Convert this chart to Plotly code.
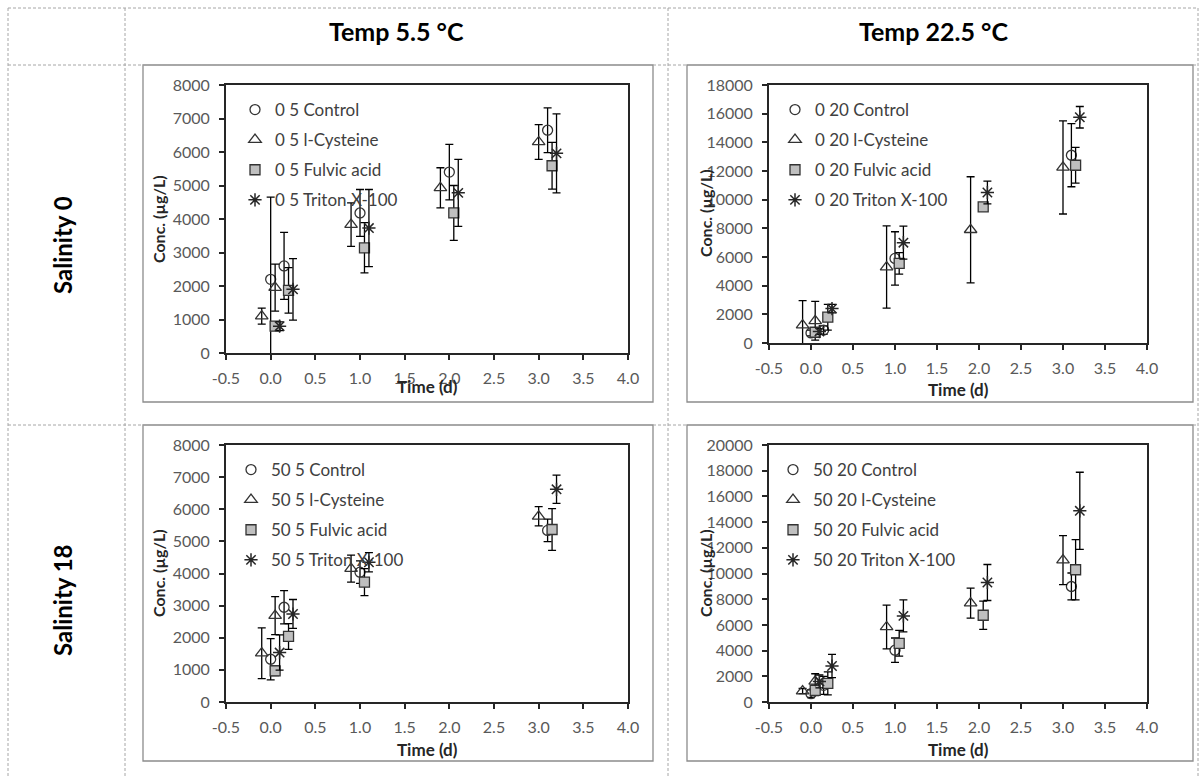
import plotly.graph_objects as go

# ---------------- data ----------------
time_control = [0.0, 0.15, 1.0, 2.0, 3.1]
time_cysteine = [-0.1, 0.05, 0.9, 1.9, 3.0]
time_fulvic = [0.05, 0.2, 1.05, 2.05, 3.15]
time_triton = [0.1, 0.25, 1.1, 2.1, 3.2]

x_tick_vals = [-0.5, 0.0, 0.5, 1.0, 1.5, 2.0, 2.5, 3.0, 3.5, 4.0]
x_tick_labels = ["-0.5", "0.0", "0.5", "1.0", "1.5", "2.0", "2.5", "3.0", "3.5", "4.0"]

# Salinity 0, Temp 5.5
s0_t5_control = [2200, 2600, 4180, 5400, 6650]
s0_t5_control_err = [2450, 1000, 700, 830, 670]
s0_t5_cysteine = [1100, 1950, 3830, 4930, 6300]
s0_t5_cysteine_err = [240, 700, 650, 600, 520]
s0_t5_fulvic = [800, 1870, 3140, 4180, 5590]
s0_t5_fulvic_err = [100, 680, 750, 820, 700]
s0_t5_triton = [800, 1900, 3730, 4780, 5960]
s0_t5_triton_err = [130, 920, 1150, 1000, 1180]

# Salinity 0, Temp 22.5
s0_t20_control = [700, 900, 5900, None, 13100]
s0_t20_control_err = [200, 300, 1860, 0, 2200]
s0_t20_cysteine = [1250, 1550, 5300, 7900, 12250]
s0_t20_cysteine_err = [1700, 1350, 2870, 3700, 3250]
s0_t20_fulvic = [750, 1800, 5550, 9500, 12400]
s0_t20_fulvic_err = [150, 900, 750, 200, 1250]
s0_t20_triton = [800, 2400, 7000, 10500, 15750]
s0_t20_triton_err = [200, 300, 1150, 800, 750]

# Salinity 18, Temp 5.5
s18_t5_control = [1330, 2950, 4040, None, 5340]
s18_t5_control_err = [640, 520, 350, 0, 350]
s18_t5_cysteine = [1520, 2690, 4150, None, 5780]
s18_t5_cysteine_err = [790, 590, 420, 0, 300]
s18_t5_fulvic = [970, 2040, 3730, None, 5370]
s18_t5_fulvic_err = [150, 400, 420, 0, 650]
s18_t5_triton = [1540, 2740, 4350, None, 6620]
s18_t5_triton_err = [550, 450, 300, 0, 440]

# Salinity 18, Temp 22.5
s18_t20_control = [650, 1300, 4030, None, 8990]
s18_t20_control_err = [300, 700, 950, 0, 1050]
s18_t20_cysteine = [850, 1600, 5840, 7690, 11040]
s18_t20_cysteine_err = [200, 600, 1700, 1170, 1900]
s18_t20_fulvic = [900, 1450, 4570, 6750, 10290]
s18_t20_fulvic_err = [400, 900, 1000, 1100, 2350]
s18_t20_triton = [1600, 2800, 6700, 9300, 14880]
s18_t20_triton_err = [500, 900, 1250, 1400, 3000]

col_titles = ["Temp 5.5 °C", "Temp 22.5 °C"]
row_titles = ["Salinity 0", "Salinity 18"]
series_names = ["Control", "l-Cysteine", "Fulvic acid", "Triton X-100"]

# ---------------- layout helpers ----------------
W, H = 1201, 776
FONT = "Lato"


def xp(px):
    return px / W


def yp(py):
    return 1 - py / H


panels = [
    dict(prefix="0 5", xa="x", ya="y", leg="legend", xdom=(226, 628), ydom=(85, 353), ymax=8000, dtick=1000,
         data=[(s0_t5_control, s0_t5_control_err), (s0_t5_cysteine, s0_t5_cysteine_err),
               (s0_t5_fulvic, s0_t5_fulvic_err), (s0_t5_triton, s0_t5_triton_err)],
         legpos=(255, 110), ytitle=(158, 219), xtitle=(427, 386)),
    dict(prefix="0 20", xa="x2", ya="y2", leg="legend2", xdom=(769, 1147), ydom=(85, 343), ymax=18000, dtick=2000,
         data=[(s0_t20_control, s0_t20_control_err), (s0_t20_cysteine, s0_t20_cysteine_err),
               (s0_t20_fulvic, s0_t20_fulvic_err), (s0_t20_triton, s0_t20_triton_err)],
         legpos=(795, 110), ytitle=(705, 213), xtitle=(958, 389)),
    dict(prefix="50 5", xa="x3", ya="y3", leg="legend3", xdom=(226, 628), ydom=(445, 702), ymax=8000, dtick=1000,
         data=[(s18_t5_control, s18_t5_control_err), (s18_t5_cysteine, s18_t5_cysteine_err),
               (s18_t5_fulvic, s18_t5_fulvic_err), (s18_t5_triton, s18_t5_triton_err)],
         legpos=(251, 470), ytitle=(158, 573), xtitle=(427, 749)),
    dict(prefix="50 20", xa="x4", ya="y4", leg="legend4", xdom=(769, 1147), ydom=(445, 702), ymax=20000, dtick=2000,
         data=[(s18_t20_control, s18_t20_control_err), (s18_t20_cysteine, s18_t20_cysteine_err),
               (s18_t20_fulvic, s18_t20_fulvic_err), (s18_t20_triton, s18_t20_triton_err)],
         legpos=(793, 470), ytitle=(705, 573), xtitle=(958, 749)),
]

times = [time_control, time_cysteine, time_fulvic, time_triton]
DARK = "#333333"
markers = [
    dict(symbol="circle-open", size=10, color=DARK, line=dict(width=1.3, color=DARK)),
    dict(symbol="triangle-up-open", size=11, color=DARK, line=dict(width=1.3, color=DARK)),
    dict(symbol="square", size=10, color="#BFBFBF", line=dict(width=1.3, color=DARK)),
    dict(symbol="asterisk-open", size=11, color="#262626", line=dict(width=1.5, color="#262626")),
]

fig = go.Figure()
layout_extra = {}
annotations = []
shapes = []


def label(text, px, py, size, color, angle=0):
    return dict(text=text, x=xp(px), y=yp(py), xref="paper", yref="paper", showarrow=False,
                xanchor="center", yanchor="middle", textangle=angle,
                font=dict(family=FONT, size=size, color=color))


for i, p in enumerate(panels):
    for s in range(4):
        vals, errs = p["data"][s]
        fig.add_trace(go.Scatter(
            x=times[s], y=vals, mode="markers",
            name=f"{p['prefix']} {series_names[s]}",
            marker=markers[s],
            error_y=dict(type="data", array=errs, visible=True, color="black", thickness=1.3, width=4),
            xaxis=p["xa"], yaxis=p["ya"], legend=p["leg"],
            legendgroup=f"{p['prefix']}-{s}",
        ))
    axis_common = dict(showline=True, linecolor="#262626", linewidth=2, mirror=True,
                       ticks="outside", ticklen=5, tickwidth=1.5, tickcolor="#262626",
                       showgrid=False, zeroline=False, automargin=False,
                       tickfont=dict(family=FONT, size=16, color="#595959"))
    xkey = "xaxis" if p["xa"] == "x" else "xaxis" + p["xa"][1:]
    ykey = "yaxis" if p["ya"] == "y" else "yaxis" + p["ya"][1:]
    layout_extra[xkey] = dict(axis_common, domain=[xp(p["xdom"][0]), xp(p["xdom"][1])],
                              range=[-0.5, 4.0], tickvals=x_tick_vals, ticktext=x_tick_labels,
                              anchor=p["ya"], ticklabelstandoff=5)
    layout_extra[ykey] = dict(axis_common, domain=[yp(p["ydom"][1]), yp(p["ydom"][0])],
                              range=[0, p["ymax"]], dtick=p["dtick"], tickformat="d",
                              anchor=p["xa"], ticklabelstandoff=6)
    lx, ly = p["legpos"]
    layout_extra[p["leg"]] = dict(x=xp(lx - 20), y=yp(ly - 18), xanchor="left", yanchor="top",
                                  bgcolor="rgba(0,0,0,0)", traceorder="grouped", tracegroupgap=5,
                                  font=dict(family=FONT, size=17, color="#404040"), itemwidth=30)
    annotations.append(label("<b>Conc. (µg/L)</b>", p["ytitle"][0], p["ytitle"][1], 16, "#262626", -90))
    annotations.append(label("<b>Time (d)</b>", p["xtitle"][0], p["xtitle"][1], 17, "#262626"))

# headers
for txt, cx in zip(col_titles, [396, 933]):
    annotations.append(label(f"<b>{txt}</b>", cx, 31, 25, "black"))
for txt, cy in zip(row_titles, [245, 600]):
    annotations.append(label(f"<b>{txt}</b>", 62, cy, 24, "black", -90))

# chart-area boxes
for (x0, y0, x1, y1) in [(143, 65, 653, 402), (687, 65, 1193, 402), (143, 425, 653, 761), (687, 425, 1193, 761)]:
    shapes.append(dict(type="rect", xref="paper", yref="paper", x0=xp(x0), x1=xp(x1), y0=yp(y1), y1=yp(y0),
                       line=dict(color="#8C8C8C", width=1.3), fillcolor="rgba(0,0,0,0)", layer="below"))

# dashed table grid
dash = dict(color="#A6A6A6", width=1, dash="3px,2px")
for yy in [8, 65, 425]:
    shapes.append(dict(type="line", xref="paper", yref="paper", x0=xp(8), x1=xp(1198), y0=yp(yy), y1=yp(yy), line=dash))
for xx in [8, 125, 668, 1198]:
    shapes.append(dict(type="line", xref="paper", yref="paper", x0=xp(xx), x1=xp(xx), y0=yp(8), y1=0, line=dash))

fig.update_layout(
    width=W, height=H, margin=dict(l=0, r=0, t=0, b=0, autoexpand=False),
    paper_bgcolor="white", plot_bgcolor="white",
    annotations=annotations, shapes=shapes, showlegend=True,
    **layout_extra,
)

fig.write_html("out.html", config={"displayModeBar": False},
               post_script="document.body.style.margin='0px';document.body.style.overflow='hidden';")
